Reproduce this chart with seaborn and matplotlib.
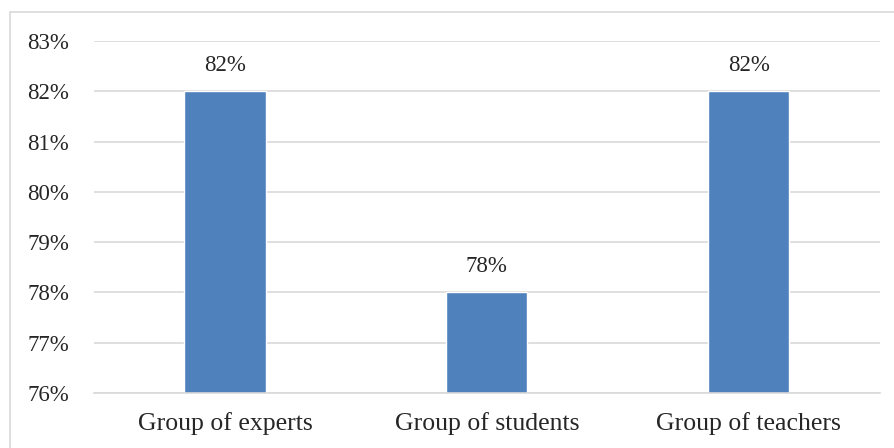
import matplotlib.pyplot as plt
import matplotlib.lines as mlines
import pandas as pd
import seaborn as sns

# chart data
groups = ['Group of experts', 'Group of students', 'Group of teachers']
shares = [82, 78, 82]
y_ticks = [76, 77, 78, 79, 80, 81, 82, 83]

df = pd.DataFrame({'Group': groups, 'Share': shares})

sns.set_theme(style='white')
plt.rcParams['font.family'] = ['Liberation Serif', 'DejaVu Serif']

fig = plt.figure(figsize=(8.95, 4.48), dpi=100)
ax = fig.add_axes([0.105, 0.1228, 0.878, 0.7857])

sns.barplot(data=df, x='Group', y='Share', color='#4f81bd', width=0.31,
            saturation=1, ax=ax, zorder=2)

ax.set_ylim(76, 83)
ax.set_xlim(-0.5, 2.5)
ax.set_yticks(y_ticks)
ax.set_yticklabels([f'{t}%' for t in y_ticks], fontsize=16.5)
ax.tick_params(axis='y', length=0, pad=18)
ax.tick_params(axis='x', which='major', length=0, labelsize=18.5, pad=14)
ax.set_xticks([-0.5, 0.5, 1.5, 2.5], minor=True)
ax.tick_params(axis='x', which='minor', length=5, width=1.2, color='#d9d9d9')
ax.yaxis.grid(True, color='#d9d9d9', linewidth=1.2, zorder=0)
ax.set_axisbelow(True)
ax.set_xlabel('')
ax.set_ylabel('')
for side in ['top', 'right', 'left']:
    ax.spines[side].set_visible(False)
ax.spines['bottom'].set_color('#d9d9d9')
ax.spines['bottom'].set_linewidth(1.2)

# value labels
for container in ax.containers:
    ax.bar_label(container, labels=[f'{v}%' for v in shares], padding=11, fontsize=16.5)

# outer chart frame (cut at right and bottom)
fig.add_artist(mlines.Line2D([10 / 895, 1], [1 - 12 / 448] * 2, color='#d9d9d9', lw=1.2))
fig.add_artist(mlines.Line2D([10 / 895] * 2, [0, 1 - 12 / 448], color='#d9d9d9', lw=1.2))

plt.savefig('out.png', dpi=100)
